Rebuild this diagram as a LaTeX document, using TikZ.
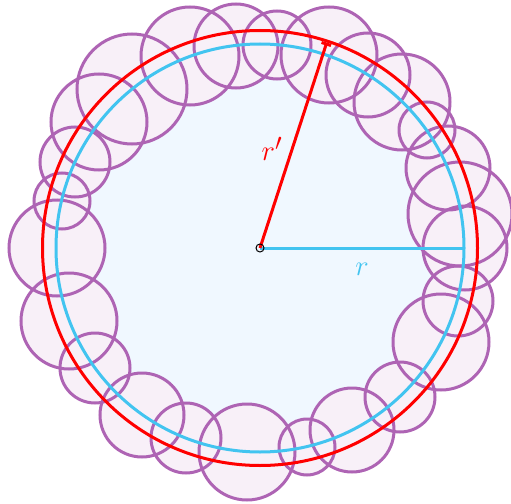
\documentclass[tikz,border=0pt]{standalone}
\usetikzlibrary{arrows.meta,calc}
\definecolor{rred}{RGB}{255,0,0}
\definecolor{bblue}{RGB}{66,196,240}
\definecolor{ppurple}{RGB}{174,100,180}
\definecolor{pfill}{RGB}{248,240,248}
\definecolor{bfill}{RGB}{240,248,255}
\tikzset{
  bubfill/.style={fill=pfill},
  bubline/.style={draw=ppurple,line width=3pt},
  lbl/.style={font=\Huge, scale=1.15, inner sep=0pt}
}
\begin{document}
\begin{tikzpicture}[x=1pt,y=-1pt]
\useasboundingbox (0,0) rectangle (511,503);
\coordinate (O) at (260,248);
\fill[bfill] (O) circle (204);
\def\bubbles{132/89/55, 99/122/48, 75/162/35, 62/201/28, 57/248/48, 69/321/48, 95/368/35, 142/415/42, 186/438/35, 247/452/48, 307/447/28, 352/430/42, 400/397/35, 441/342/48, 458/301/35, 465/248/42, 460/214/52, 448/168/42, 427/130/28, 402/102/48, 368/75/42, 329/55/48, 277/45/34, 236/46/42, 190/56/49}
\foreach \x/\y/\r in \bubbles {\fill[bubfill] (\x,\y) circle (\r);}
\foreach \x/\y/\r in \bubbles {\draw[bubline] (\x,\y) circle (\r);}
\draw[bblue,line width=3pt] (O) circle (204);
\draw[rred,line width=3pt] (O) circle (217.5);
\coordinate (E) at ($(O)+(-72:216)$);
\coordinate (B) at ($(O)+(203,0)$);
\draw[bblue,line width=3pt] (O) -- (B);
\draw[rred,line width=3pt,-{Bar[width=10pt]}] (O) -- (E);
\node[draw=black,circle,line width=1pt,minimum size=8pt,inner sep=0pt] (c) at (O) {};
\node[lbl,text=rred] (rp) at (272,149) {$r'$};
\node[lbl,text=bblue] (rr) at (362,269) {$r$};
\end{tikzpicture}
\end{document}
